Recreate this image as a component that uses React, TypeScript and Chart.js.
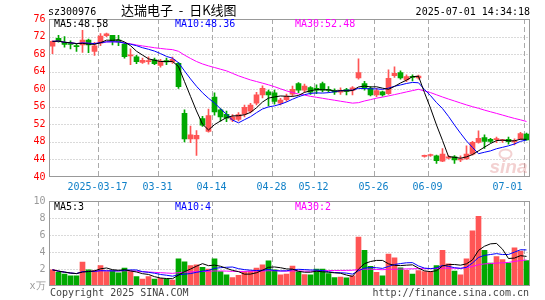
import React, { useEffect, useRef } from 'react';
import { Chart, registerables } from 'chart.js';
Chart.register(...registerables);

const dates = [
  '2025-03-05','2025-03-06','2025-03-07','2025-03-10','2025-03-11','2025-03-12','2025-03-13','2025-03-14',
  '2025-03-17','2025-03-18','2025-03-19','2025-03-20','2025-03-21','2025-03-24','2025-03-25','2025-03-26',
  '2025-03-27','2025-03-28','2025-03-31','2025-04-01','2025-04-02','2025-04-03','2025-04-07','2025-04-08',
  '2025-04-09','2025-04-10','2025-04-11','2025-04-14','2025-04-15','2025-04-16','2025-04-17','2025-04-18',
  '2025-04-21','2025-04-22','2025-04-23','2025-04-24','2025-04-25','2025-04-28','2025-04-29','2025-04-30',
  '2025-05-06','2025-05-07','2025-05-08','2025-05-09','2025-05-12','2025-05-13','2025-05-14','2025-05-15',
  '2025-05-16','2025-05-19','2025-05-20','2025-05-21','2025-05-22','2025-05-23','2025-05-26','2025-05-27',
  '2025-05-28','2025-05-29','2025-05-30','2025-06-03','2025-06-04','2025-06-05','2025-06-06','2025-06-09',
  '2025-06-10','2025-06-11','2025-06-12','2025-06-13','2025-06-16','2025-06-17','2025-06-18','2025-06-19',
  '2025-06-20','2025-06-23','2025-06-24','2025-06-25','2025-06-26','2025-06-27','2025-06-30','2025-07-01',
];

const opens = [
  69.8, 71.6, 70.7, 70.4, 69.8, 70.1, 71.2, 68.6, 70.5, 72.2,
  72.3, 71.2, 70.3, 67.6, 67.4, 66.1, 66.3, 66.7, 65.4, 66.5,
  66.2, 65.9, 54.5, 48.7, 48.7, 53.3, 50.4, 58.2, 55.3, 54.3,
  53.0, 53.1, 54.3, 55.0, 56.8, 58.7, 59.4, 59.2, 56.8, 57.6,
  58.9, 61.3, 59.8, 60.4, 60.2, 61.3, 60.0, 59.7, 59.3, 59.9,
  59.7, 62.6, 61.3, 60.2, 58.7, 59.4, 59.0, 63.1, 63.8, 62.1,
  62.9, 62.6, 44.7, 44.9, 44.8, 43.6, 44.3, 44.6, 43.9, 44.1,
  45.2, 47.9, 49.0, 48.6, 48.5, 48.3, 48.6, 48.0, 48.7, 49.8,
];
const highs = [
  71.0, 72.3, 72.0, 71.0, 70.3, 73.4, 71.4, 70.7, 72.7, 72.8,
  72.3, 72.3, 70.5, 69.2, 67.7, 67.1, 67.4, 67.1, 66.8, 67.1,
  67.3, 66.1, 55.3, 51.6, 50.6, 53.8, 55.5, 59.2, 55.6, 55.0,
  54.2, 54.7, 56.4, 56.8, 59.3, 60.8, 59.8, 59.8, 57.9, 58.9,
  60.7, 61.5, 61.2, 60.6, 61.0, 61.6, 60.6, 60.1, 60.3, 60.2,
  60.6, 66.9, 61.8, 60.6, 60.2, 59.6, 64.4, 65.1, 64.2, 63.3,
  63.3, 63.2, 45.0, 45.2, 45.0, 46.5, 44.9, 44.9, 44.8, 47.1,
  48.1, 50.5, 49.6, 48.8, 49.1, 48.6, 49.1, 48.7, 50.2, 50.0,
];
const lows = [
  68.1, 70.7, 69.6, 69.2, 68.6, 68.4, 68.3, 67.7, 69.9, 72.0,
  70.1, 69.9, 67.1, 65.6, 65.8, 65.9, 65.7, 65.6, 65.0, 65.6,
  65.9, 60.2, 48.0, 47.8, 44.9, 51.5, 50.2, 54.1, 52.7, 52.6,
  52.6, 52.8, 53.7, 54.6, 56.4, 58.0, 56.2, 56.6, 56.4, 57.2,
  58.4, 59.2, 59.3, 58.8, 59.0, 59.4, 59.3, 58.8, 58.8, 58.7,
  58.7, 62.3, 59.8, 58.5, 58.3, 58.4, 58.8, 62.7, 62.3, 61.7,
  61.9, 62.3, 44.5, 44.7, 43.1, 43.5, 44.1, 43.1, 43.5, 44.0,
  45.0, 47.7, 46.5, 47.8, 47.8, 47.9, 47.5, 47.3, 48.5, 48.4,
];
const closes = [
  70.9, 71.0, 70.2, 70.2, 69.7, 71.2, 70.1, 69.9, 72.1, 72.6,
  71.0, 70.8, 67.4, 67.8, 66.3, 66.6, 66.5, 65.8, 66.4, 66.2,
  66.8, 60.6, 48.7, 49.6, 49.5, 51.8, 54.0, 54.8, 53.7, 53.4,
  53.7, 54.2, 55.9, 56.4, 58.7, 60.2, 58.7, 57.2, 57.5, 58.4,
  60.0, 59.8, 60.7, 59.3, 59.8, 59.8, 59.7, 59.3, 59.7, 59.5,
  60.3, 63.8, 60.3, 58.7, 59.7, 58.7, 62.5, 63.6, 62.6, 62.9,
  62.7, 63.0, 44.8, 45.0, 43.7, 45.2, 44.6, 43.9, 44.0, 45.2,
  47.9, 48.8, 48.1, 48.1, 48.6, 48.4, 48.05, 48.1, 49.9, 48.45,
];
const volumes = [
  1.9, 1.6, 1.4, 1.2, 1.2, 2.8, 1.9, 1.8, 2.4, 1.7,
  1.8, 1.55, 2.1, 1.7, 1.1, 0.8, 1.1, 0.8, 0.9, 0.8,
  0.7, 3.2, 2.85, 2.4, 2.5, 2.2, 2.0, 3.2, 1.7, 1.3,
  1.0, 1.25, 1.7, 1.75, 2.1, 2.5, 2.95, 1.9, 1.3, 1.4,
  2.35, 1.7, 1.35, 1.3, 2.0, 2.0, 1.45, 1.0, 1.05, 0.95,
  1.2, 5.75, 4.2, 2.3, 1.6, 1.2, 3.75, 3.3, 2.15, 1.85,
  1.4, 1.8, 1.7, 1.7, 2.4, 4.2, 2.6, 1.75, 1.3, 3.2,
  6.5, 8.2, 4.2, 2.7, 3.45, 3.1, 2.7, 4.5, 4.1, 3.0,
];

const axisDates = ['2025-03-17', '2025-03-31', '2025-04-14', '2025-04-28', '2025-05-12', '2025-05-26', '2025-06-09', '2025-07-01'];
const axisLabels = ['2025-03-17', '03-31', '04-14', '04-28', '05-12', '05-26', '06-09', '07-01'];

const priceMin = 40, priceMax = 76, priceStep = 4;
const volMin = 0, volMax = 10, volStep = 2;

const RED = '#ff5555';
const GREEN = '#00a800';
const MONO = '"DejaVu Sans Mono", monospace';

function movingAverage(arr: number[], n: number) {
  return arr.map((_, i) => {
    const s = Math.max(0, i - n + 1);
    const w = arr.slice(s, i + 1);
    return w.reduce((a, b) => a + b, 0) / w.length;
  });
}

const markIdx = axisDates.map((d) => dates.indexOf(d));

function gridPlugin(withLabels: boolean) {
  return {
    id: 'sinaGrid' + (withLabels ? 'M' : 'V'),
    beforeDatasetsDraw(chart: any) {
      const { ctx, chartArea: a, scales } = chart;
      const x = scales.x, y = scales.y;
      ctx.save();
      ctx.lineWidth = 1;
      ctx.strokeStyle = '#b4b4b4';
      ctx.setLineDash([1, 2]);
      y.ticks.forEach((t: any) => {
        if (t.value <= y.min || t.value >= y.max) return;
        const py = Math.round(y.getPixelForValue(t.value)) + 0.5;
        ctx.beginPath();
        ctx.moveTo(a.left, py);
        ctx.lineTo(a.right, py);
        ctx.stroke();
      });
      ctx.setLineDash([5, 3]);
      ctx.strokeStyle = '#aaaaaa';
      const slot = x.getPixelForValue(1) - x.getPixelForValue(0);
      markIdx.forEach((i) => {
        const px = Math.round(x.getPixelForValue(i) - slot / 2) + 0.5;
        ctx.beginPath();
        ctx.moveTo(px, a.top);
        ctx.lineTo(px, a.bottom);
        ctx.stroke();
      });
      if (withLabels) {
        // faint sina watermark behind the marks
        ctx.setLineDash([]);
        ctx.fillStyle = 'rgba(225,140,140,0.40)';
        ctx.font = 'italic bold 19px "Liberation Sans", sans-serif';
        ctx.textAlign = 'left';
        ctx.textBaseline = 'alphabetic';
        ctx.fillText('sina', a.right - 40, a.bottom - 4);
        ctx.strokeStyle = 'rgba(225,140,140,0.40)';
        ctx.lineWidth = 2;
        ctx.beginPath();
        ctx.ellipse(a.right - 24, a.bottom - 23, 6, 4.5, 0, 0, Math.PI * 2);
        ctx.stroke();
      }
      ctx.restore();
    },
    afterDraw(chart: any) {
      const { ctx, chartArea: a, scales } = chart;
      const x = scales.x;
      ctx.save();
      ctx.strokeStyle = '#999999';
      ctx.lineWidth = 1;
      ctx.setLineDash([]);
      ctx.strokeRect(Math.round(a.left) - 0.5, Math.round(a.top) + 0.5, Math.round(a.right - a.left), Math.round(a.bottom - a.top) - 1);
      if (withLabels) {
        const slot = x.getPixelForValue(1) - x.getPixelForValue(0);
        ctx.font = '10px ' + MONO;
        ctx.fillStyle = '#1080c8';
        ctx.textAlign = 'center';
        ctx.textBaseline = 'middle';
        markIdx.forEach((i, k) => {
          const label = axisLabels[k];
          const w = ctx.measureText(label).width;
          let px = x.getPixelForValue(i) - slot / 2;
          px = Math.min(px, a.right - 7 - w / 2);
          ctx.fillText(label, px, a.bottom + 10);
        });
      }
      ctx.restore();
    },
  };
}

export default function App() {
  const mainRef = useRef<HTMLCanvasElement>(null);
  const volRef = useRef<HTMLCanvasElement>(null);

  useEffect(() => {
    const up = closes.map((c, i) => c >= opens[i]);
    const colors = up.map((u) => (u ? RED : GREEN));
    const ma5 = movingAverage(closes, 5);
    const ma10 = movingAverage(closes, 10);
    const ma30 = movingAverage(closes, 30);
    const vma5 = movingAverage(volumes, 5);
    const vma10 = movingAverage(volumes, 10);
    const vma30 = movingAverage(volumes, 30);

    const lineDs = (data: number[], color: string) => ({
      type: 'line' as const,
      data,
      borderColor: color,
      borderWidth: 1,
      pointRadius: 0,
      tension: 0,
      fill: false,
      order: 0,
    });

    const main = new Chart(mainRef.current!, {
      type: 'bar',
      data: {
        labels: dates,
        datasets: [
          lineDs(ma5, '#000000'),
          lineDs(ma10, '#0000ff'),
          lineDs(ma30, '#ff00ff'),
          {
            type: 'bar',
            data: opens.map((o, i) => [o, closes[i]]),
            backgroundColor: colors,
            barThickness: 5,
            minBarLength: 1,
            grouped: false,
            borderWidth: 0,
            order: 1,
          } as any,
          {
            type: 'bar',
            data: lows.map((l, i) => [l, highs[i]]),
            backgroundColor: colors,
            barThickness: 1,
            grouped: false,
            borderWidth: 0,
            order: 2,
          } as any,
        ],
      },
      options: {
        responsive: false,
        animation: false,
        devicePixelRatio: 1,
        layout: { padding: { left: 0.5, top: 19, right: 15.5, bottom: 18 } },
        plugins: { legend: { display: false }, tooltip: { enabled: false } },
        scales: {
          x: { display: false, offset: true, grid: { display: false } },
          y: {
            min: priceMin,
            max: priceMax,
            afterFit: (s: any) => { s.width = 49; },
            grid: { display: false, drawTicks: false },
            border: { display: false },
            ticks: {
              stepSize: priceStep,
              color: '#ff0000',
              font: { family: MONO, size: 10 },
              padding: 4,
            },
          },
        },
      },
      plugins: [gridPlugin(true)],
    } as any);

    const vol = new Chart(volRef.current!, {
      type: 'bar',
      data: {
        labels: dates,
        datasets: [
          lineDs(vma5, '#000000'),
          lineDs(vma10, '#0000ff'),
          lineDs(vma30, '#ff00ff'),
          {
            type: 'bar',
            data: volumes,
            backgroundColor: colors,
            barThickness: 5,
            grouped: false,
            borderWidth: 0,
            order: 1,
          } as any,
        ],
      },
      options: {
        responsive: false,
        animation: false,
        devicePixelRatio: 1,
        layout: { padding: { left: 0.5, top: 11, right: 15.5, bottom: 14 } },
        plugins: { legend: { display: false }, tooltip: { enabled: false } },
        scales: {
          x: { display: false, offset: true, grid: { display: false } },
          y: {
            min: volMin,
            max: volMax,
            afterFit: (s: any) => { s.width = 49; },
            grid: { display: false, drawTicks: false },
            border: { display: false },
            ticks: {
              stepSize: volStep,
              color: '#999999',
              font: { family: MONO, size: 10 },
              padding: 4,
              callback: (v: any) => (v === 0 ? 'x万' : String(v)),
            },
          },
        },
      },
      plugins: [gridPlugin(false)],
    } as any);

    return () => {
      main.destroy();
      vol.destroy();
    };
  }, []);

  const t = (text: string, left: number, top: number, color: string, extra: any = {}) => (
    <div style={{ position: 'absolute', left, top, color, font: '10px ' + MONO, lineHeight: '12px', whiteSpace: 'pre', ...extra }}>{text}</div>
  );

  return (
    <div style={{ position: 'absolute', left: 0, top: 0, width: 545, height: 300, background: '#ffffff', overflow: 'hidden' }}>
      <canvas ref={mainRef} width={545} height={195} style={{ position: 'absolute', left: 0, top: 0 }} />
      <canvas ref={volRef} width={545} height={110} style={{ position: 'absolute', left: 0, top: 190 }} />
      {t('sz300976', 48, 6, '#000')}
      <div style={{ position: 'absolute', left: 121, top: 2, color: '#000', font: '13px "Noto Sans CJK SC", sans-serif', lineHeight: '16px', whiteSpace: 'pre' }}>{'达瑞电子  -  日K线图'}</div>
      {t('2025-07-01 14:34:18', 0, 6, '#000', { left: 'auto', right: 15 })}
      {t('MA5:48.58', 54, 18, '#000')}
      {t('MA10:48.36', 175, 18, '#0000ff')}
      {t('MA30:52.48', 295, 18, '#ff00ff')}
      {t('MA5:3', 54, 201, '#000')}
      {t('MA10:4', 175, 201, '#0000ff')}
      {t('MA30:2', 295, 201, '#ff00ff')}
      {t('Copyright 2025 SINA.COM', 50, 287, '#444')}
      {t('http://finance.sina.com.cn', 0, 287, '#444', { left: 'auto', right: 16 })}
    </div>
  );
}
